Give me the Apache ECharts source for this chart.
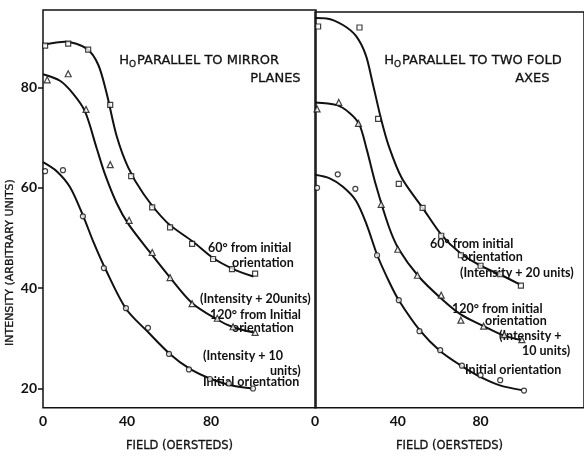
<!DOCTYPE html>
<html>
<head>
<meta charset="utf-8">
<script src="https://cdn.jsdelivr.net/npm/echarts@6/dist/echarts.min.js"></script>
<style>
  html, body { margin: 0; padding: 0; background: #fff; }
  #main { width: 584px; height: 457px; }
</style>
</head>
<body>
<div id="main"></div>
<script>
// H0 parallel to mirror planes (left panel)
var mirrorSqX = [1, 12, 21.5, 32, 42, 52, 60.5, 71, 81, 90, 101];
var mirrorSqY = [88.3, 88.7, 87.5, 76.5, 62.3, 56.1, 52.1, 48.8, 45.8, 43.8, 42.9];
var mirrorTriX = [2, 12, 20.5, 32, 41, 52, 60.5, 71, 83, 90.5, 101];
var mirrorTriY = [81.5, 82.7, 75.6, 64.6, 53.5, 47.1, 42.1, 36.9, 34.0, 32.3, 31.2];
var mirrorCirX = [1, 9.5, 19, 29, 39.5, 50, 60, 69.5, 79.5, 88.5, 100];
var mirrorCirY = [63.3, 63.5, 54.3, 44.0, 36.0, 32.1, 26.9, 23.8, 21.9, 21.0, 20.0];

// fitted curves, left panel
var mirrorSqCurveX = [0, 10.5, 20.8, 26.3, 30.3, 35, 40.6, 47.8, 59, 71.6, 81, 90.6, 100.2];
var mirrorSqCurveY = [88.5, 89.1, 87.7, 84.5, 78.8, 70.4, 64.0, 58.8, 53.1, 49.2, 46.0, 43.8, 42.3];
var mirrorTriCurveX = [0, 8.1, 14.4, 20, 25.6, 29.5, 35.1, 40.6, 51, 60.5, 70.8, 82.7, 90.6, 101];
var mirrorTriCurveY = [82.6, 81.3, 78.7, 75.2, 67.8, 62.7, 56.9, 52.8, 47.1, 42.1, 37.1, 33.8, 32.2, 31.1];
var mirrorCirCurveX = [0, 6.5, 12.9, 19.2, 24, 29.5, 39.5, 50.1, 60.1, 70, 80, 90, 100];
var mirrorCirCurveY = [65.1, 63.3, 60.1, 54.3, 49.2, 44.0, 35.9, 31.2, 27.0, 23.9, 21.9, 20.6, 20.0];

// H0 parallel to two fold axes (right panel)
var foldSqX = [1.5, 21.5, 30.5, 40.5, 52, 61, 70.5, 80, 89.5, 99.5];
var foldSqY = [92.5, 92.3, 74.0, 61.0, 56.2, 50.6, 46.7, 44.6, 42.9, 40.6];
var foldTriX = [1, 11.5, 21, 32, 40, 49.5, 61, 70.5, 81.5, 91.5, 100];
var foldTriY = [76.0, 77.3, 73.1, 56.9, 47.9, 42.7, 38.7, 33.7, 32.5, 30.8, 29.8];
var foldCirX = [1, 11, 19.5, 30, 40.5, 50.5, 60.5, 71, 80, 89.5, 101];
var foldCirY = [60.2, 62.9, 60.0, 46.7, 37.7, 31.5, 27.7, 24.6, 22.7, 21.7, 19.6];

// fitted curves, right panel
var foldSqCurveX = [0, 5.6, 13.5, 19.8, 24.5, 27.8, 31.8, 35.7, 42, 52, 61.1, 70.6, 80.1, 89.7, 99.2];
var foldSqCurveY = [94.2, 94.1, 92.8, 90.6, 86.8, 81.3, 74.2, 68.5, 62.1, 56.2, 50.8, 47.0, 44.6, 42.8, 40.8];
var foldTriCurveX = [0, 10.3, 16.7, 21.4, 25, 29.4, 35.7, 40.5, 50, 61.1, 70.6, 81, 91.3, 100];
var foldTriCurveY = [77.3, 76.8, 75.2, 72.9, 67.9, 60.8, 52.4, 47.9, 42.5, 38.0, 34.8, 32.6, 30.6, 29.7];
var foldCirCurveX = [0, 7.1, 13.5, 19.8, 25, 30.1, 35.7, 40.5, 50.8, 60.3, 70.6, 80.1, 89.7, 100];
var foldCirCurveY = [62.8, 62.1, 60.4, 57.6, 52.8, 46.7, 41.5, 37.7, 31.6, 27.6, 24.6, 22.3, 20.6, 19.7];

var yTicks = [20, 40, 60, 80];
var xTicks = [0, 40, 80];

var ink = '#111';
var font = 'Lato';
var capsFont = 'DejaVu Sans';

function pairs(xs, ys) {
  return xs.map(function (x, i) { return [x, ys[i]]; });
}

function marks(xs, ys, symbol, size, idx) {
  return {
    type: 'scatter',
    xAxisIndex: idx, yAxisIndex: idx,
    symbol: symbol,
    symbolSize: size,
    itemStyle: { color: '#fff', borderColor: ink, borderWidth: 1.2 },
    data: pairs(xs, ys),
    z: 3
  };
}

function curve(xs, ys, idx) {
  return {
    type: 'line',
    xAxisIndex: idx, yAxisIndex: idx,
    showSymbol: false,
    smooth: 0.3,
    lineStyle: { color: ink, width: 2 },
    data: pairs(xs, ys),
    z: 2
  };
}

function xAxisFor(idx) {
  return {
    gridIndex: idx,
    type: 'value',
    min: 0, max: 130, interval: 40,
    axisLine: { show: false },
    axisTick: { show: false },
    splitLine: { show: false },
    axisLabel: {
      customValues: xTicks,
      color: ink, fontSize: 14, fontWeight: 'bold', fontFamily: font, margin: 7
    },
    name: 'FIELD (OERSTEDS)',
    nameLocation: 'middle',
    nameGap: 32,
    nameTextStyle: { color: ink, fontSize: 11.5, fontFamily: capsFont, textBorderColor: ink, textBorderWidth: 0.3 }
  };
}

function label(x, y, text) {
  return {
    type: 'text', left: x, top: y,
    style: { text: text, fill: ink, font: 'bold 12.5px "' + font + '"' }
  };
}

function capsLabel(x, y, text) {
  return {
    type: 'text', left: x, top: y,
    style: { text: text, fill: ink, stroke: ink, lineWidth: 0.3, font: '13px "' + capsFont + '"' }
  };
}

function heading(x, y, rest) {
  return {
    type: 'text', left: x, top: y,
    style: {
      text: '{a|H}{b|O}{a|' + rest + '}',
      rich: {
        a: { fontSize: 13, fontFamily: capsFont, fill: ink, stroke: ink, lineWidth: 0.3 },
        b: { fontSize: 9, fontFamily: capsFont, fill: ink, stroke: ink, lineWidth: 0.3, padding: [8, 1, 0, 0] }
      }
    }
  };
}

var chart = echarts.init(document.getElementById('main'));
var option = {
  backgroundColor: '#fff',
  animation: false,
  grid: [
    { left: 43, top: 10, width: 273, height: 412, show: true, borderColor: ink, borderWidth: 1.5 },
    { left: 315, top: 12, width: 273, height: 411, show: true, borderColor: ink, borderWidth: 1.5 }
  ],
  xAxis: [xAxisFor(0), xAxisFor(1)],
  yAxis: [
    {
      gridIndex: 0, type: 'value', min: 16.15, max: 95.4,
      axisLine: { show: false },
      splitLine: { show: false },
      axisTick: { show: true, customValues: yTicks, length: 5, lineStyle: { color: ink, width: 1.5 } },
      axisLabel: { customValues: yTicks, color: ink, fontSize: 14, fontWeight: 'bold', fontFamily: font, margin: 6 }
    },
    {
      gridIndex: 1, type: 'value', min: 16.15, max: 95.4,
      axisLine: { show: false }, splitLine: { show: false },
      axisTick: { show: false }, axisLabel: { show: false }
    }
  ],
  graphic: [
    {
      type: 'text', x: 5, y: 346, rotation: Math.PI / 2,
      style: { text: 'INTENSITY (ARBITRARY UNITS)', fill: ink, stroke: ink, lineWidth: 0.3, font: '11px "' + capsFont + '"' }
    },
    heading(119, 54, 'PARALLEL TO MIRROR'),
    capsLabel(250, 72, 'PLANES'),
    label(208, 241, '60° from initial'),
    label(232, 256, 'orientation'),
    label(200, 292, '(Intensity + 20units)'),
    label(210, 308, '120° from Initial'),
    label(232, 321, 'orientation'),
    label(203, 349, '(Intensity + 10'),
    label(270, 364, 'units)'),
    label(203, 375, 'Initial orientation'),

    heading(384, 54, 'PARALLEL TO TWO FOLD'),
    capsLabel(515, 72, 'AXES'),
    label(430, 237, '60° from initial'),
    label(461, 250, 'orientation'),
    label(460, 266, '(Intensity + 20 units)'),
    label(452, 302, '120° from initial'),
    label(485, 314, 'orientation'),
    label(499, 329, '(Intensity +'),
    label(522, 344, '10 units)'),
    label(465, 363, 'Initial orientation')
  ],
  series: [
    curve(mirrorSqCurveX, mirrorSqCurveY, 0),
    curve(mirrorTriCurveX, mirrorTriCurveY, 0),
    curve(mirrorCirCurveX, mirrorCirCurveY, 0),
    marks(mirrorSqX, mirrorSqY, 'rect', 5, 0),
    marks(mirrorTriX, mirrorTriY, 'triangle', 6, 0),
    marks(mirrorCirX, mirrorCirY, 'circle', 5, 0),
    curve(foldSqCurveX, foldSqCurveY, 1),
    curve(foldTriCurveX, foldTriCurveY, 1),
    curve(foldCirCurveX, foldCirCurveY, 1),
    marks(foldSqX, foldSqY, 'rect', 5, 1),
    marks(foldTriX, foldTriY, 'triangle', 6, 1),
    marks(foldCirX, foldCirY, 'circle', 5, 1)
  ]
};
chart.setOption(option);
</script>
</body>
</html>
